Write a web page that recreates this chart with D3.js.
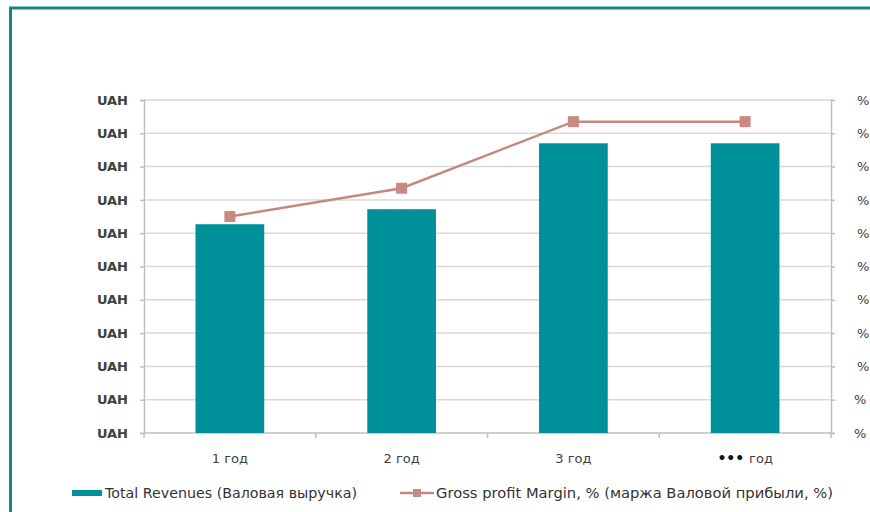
<!DOCTYPE html>
<html><head><meta charset="utf-8">
<script src="https://cdn.jsdelivr.net/npm/d3@7"></script>
<style>body{margin:0;background:#fff}svg{display:block}</style>
</head><body>
<svg id="c" width="870" height="512"></svg>
<script>
const categories = ["1 год", "2 год", "3 год", "год"];
const revenues = [6.27, 6.72, 8.7, 8.7];
const margins = [6.5, 7.35, 9.35, 9.35];
const leftTicks = [0,1,2,3,4,5,6,7,8,9,10];
const leftTickLabel = "UAH";
const rightTickLabel = "%";
const legendNames = ["Total Revenues (Валовая выручка)", "Gross profit Margin, % (маржа Валовой прибыли, %)"];

const svg = d3.select("#c");
const font = "DejaVu Sans, Verdana, sans-serif";
const W = 870, H = 512;
const m = {l:144, r:831, t:100, b:433};

// frame
svg.append("rect").attr("x",0).attr("y",0).attr("width",W).attr("height",H).attr("fill","#fff");
svg.append("line").attr("x1",9).attr("x2",W).attr("y1",8).attr("y2",8).attr("stroke","#15877f").attr("stroke-width",3);
svg.append("line").attr("x1",10.5).attr("x2",10.5).attr("y1",7).attr("y2",H).attr("stroke","#15877f").attr("stroke-width",3);

const x = d3.scaleBand().domain(categories).range([m.l, m.r]).paddingInner(0.6).paddingOuter(0.3);
const y = d3.scaleLinear().domain([0,10]).range([m.b, m.t]);
const y2 = d3.scaleLinear().domain([0,10]).range([m.b, m.t]);

// gridlines
svg.append("g").selectAll("line").data(leftTicks.slice(1)).join("line")
  .attr("x1",m.l).attr("x2",m.r).attr("y1",d=>y(d)).attr("y2",d=>y(d))
  .attr("stroke","#d9d9d9").attr("stroke-width",1.5);

// left axis
const gl = svg.append("g").attr("transform",`translate(${m.l},0)`)
  .call(d3.axisLeft(y).tickValues(leftTicks).tickSize(4).tickPadding(6).tickFormat(()=>leftTickLabel));
gl.select(".domain").attr("stroke","#bfbfbf").attr("stroke-width",1.5);
gl.selectAll(".tick line").attr("stroke","#bfbfbf").attr("stroke-width",1.5);
gl.selectAll("text").attr("font-family",font).attr("font-size",13).attr("fill","#404040").attr("font-weight","bold").attr("x",-16);

// right axis
const gr = svg.append("g").attr("transform",`translate(${m.r},0)`)
  .call(d3.axisRight(y2).tickValues(leftTicks).tickSize(4).tickPadding(26).tickFormat(()=>rightTickLabel));
gr.select(".domain").attr("stroke","#bfbfbf").attr("stroke-width",1.5);
gr.selectAll(".tick line").attr("stroke","#bfbfbf").attr("stroke-width",1.5);
gr.selectAll("text").attr("font-family",font).attr("font-size",13).attr("fill","#404040")
  .attr("x",d=>d<=1?23:26);

// bottom axis
const boundaries = d3.range(categories.length+1).map(i=>m.l + i*(m.r-m.l)/categories.length);
svg.append("line").attr("x1",m.l).attr("x2",m.r).attr("y1",m.b).attr("y2",m.b).attr("stroke","#bfbfbf").attr("stroke-width",1.5);
svg.append("g").selectAll("line").data(boundaries).join("line")
  .attr("x1",d=>d).attr("x2",d=>d).attr("y1",m.b).attr("y2",m.b+5).attr("stroke","#bfbfbf").attr("stroke-width",1.5);

const xl = svg.append("g").selectAll("text").data(categories).join("text")
  .attr("x",d=>x(d)+x.bandwidth()/2).attr("y",463).attr("text-anchor","middle")
  .attr("font-family",font).attr("font-size",13).attr("fill","#404040");
xl.each(function(d,i){
  const t = d3.select(this);
  if(i===3){
    t.append("tspan").text("••• ").attr("fill","#111").attr("font-weight","bold").attr("font-size",14);
    t.append("tspan").text(d);
  } else t.text(d);
});

// bars
svg.append("g").selectAll("rect").data(revenues).join("rect")
  .attr("x",(d,i)=>x(categories[i])).attr("width",x.bandwidth())
  .attr("y",d=>y(d)).attr("height",d=>m.b-y(d)).attr("fill","#00909a");

// line
const cx = (d,i)=>x(categories[i])+x.bandwidth()/2;
svg.append("path").datum(margins)
  .attr("d", d3.line().x(cx).y(d=>y2(d)))
  .attr("fill","none").attr("stroke","#c48881").attr("stroke-width",2.5);
svg.append("g").selectAll("rect").data(margins).join("rect")
  .attr("x",(d,i)=>cx(d,i)-5.5).attr("y",d=>y2(d)-5.5).attr("width",11).attr("height",11)
  .attr("fill","#c98880");

// legend
svg.append("rect").attr("x",72).attr("y",490).attr("width",30).attr("height",6).attr("fill","#00909a");
svg.append("text").attr("x",105).attr("y",498).text(legendNames[0])
  .attr("font-family",font).attr("font-size",14).attr("fill","#333")
  .attr("textLength",252).attr("lengthAdjust","spacingAndGlyphs");
svg.append("line").attr("x1",400).attr("x2",434).attr("y1",493).attr("y2",493).attr("stroke","#c48881").attr("stroke-width",2.5);
svg.append("rect").attr("x",413).attr("y",489).attr("width",8).attr("height",8).attr("fill","#c98880");
svg.append("text").attr("x",436).attr("y",498).text(legendNames[1])
  .attr("font-family",font).attr("font-size",14).attr("fill","#333")
  .attr("textLength",397).attr("lengthAdjust","spacingAndGlyphs");
</script>
</body></html>
